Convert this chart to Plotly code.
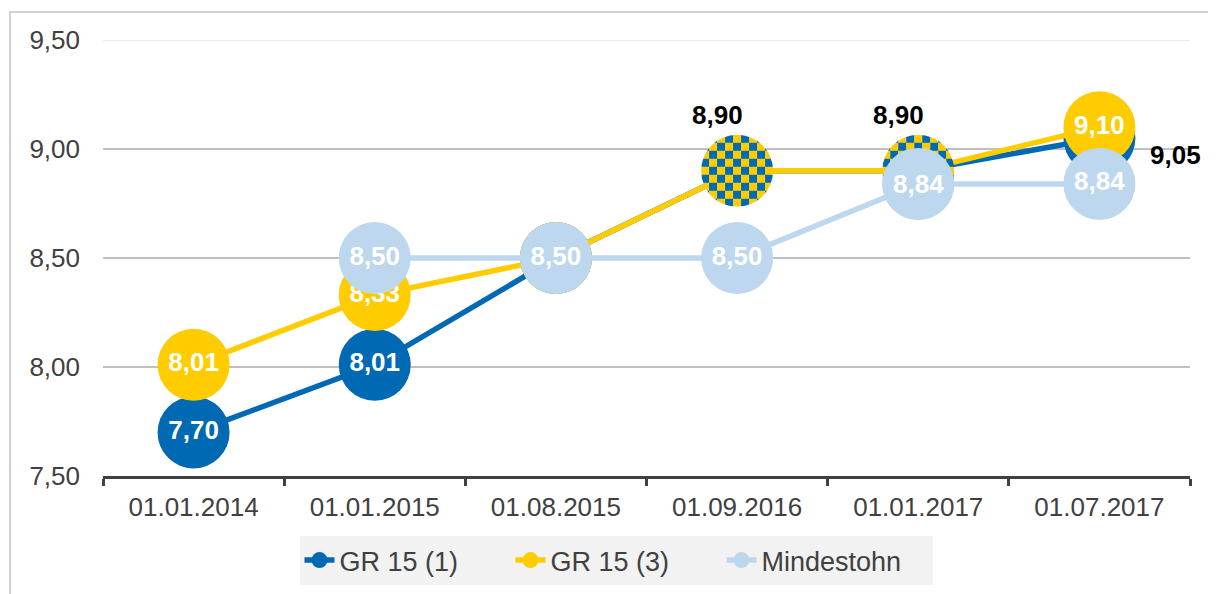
import base64
import plotly.graph_objects as go

# ---------------- data ----------------
categories = ["01.01.2014", "01.01.2015", "01.08.2015", "01.09.2016", "01.01.2017", "01.07.2017"]
gr15_1 = [7.70, 8.01, 8.50, 8.90, 8.90, 9.05]
gr15_3 = [8.01, 8.33, 8.50, 8.90, 8.90, 9.10]
mindestlohn = [None, 8.50, 8.50, 8.50, 8.84, 8.84]
series_names = ["GR 15 (1)", "GR 15 (3)", "Mindestohn"]
y_ticks = [7.50, 8.00, 8.50, 9.00, 9.50]

# ---------------- styles ----------------
BLUE = "#0069B4"
YELLOW = "#FFCC00"
LIGHT = "#BDD7EE"
TEXT = "#404040"
FONT = "Liberation Sans, Arial, sans-serif"
OFF = 8                       # page body margin
W, H = 1216 - OFF, 594 - OFF
PX0, PX1, PY0, PY1 = 103, 1190, 40, 476   # plot area in page pixels
ML, MR, MT, MB = PX0 - OFF, W - (PX1 - OFF), PY0 - OFF, H - (PY1 - OFF)
MS = 72          # marker diameter (px)
LW = 5.5         # line width
FS = 26          # font size

def fmt(v):
    return "" if v is None else f"{v:.2f}".replace(".", ",")

# points where both GR 15 series coincide -> checkered marker
shared = [i for i, (a, b) in enumerate(zip(gr15_1, gr15_3)) if a == b and mindestlohn[i] != a]
redraw_light = [i for i in shared if mindestlohn[i] is not None and abs(mindestlohn[i] - gr15_1[i]) < 0.3]
last = len(categories) - 1

def sizes(vals, hide):
    return [0 if (v is None or i in hide) else MS for i, v in enumerate(vals)]

text1 = [fmt(v) for v in gr15_1]
text3 = [fmt(v) for v in gr15_3]
textL = [fmt(v) for v in mindestlohn]
for i in shared:
    text1[i] = ""
    text3[i] = ""
for i in redraw_light:
    textL[i] = ""
text1[last] = ""  # shown as external label

fig = go.Figure()
for name, vals, col, txt, hide in [
    (series_names[0], gr15_1, BLUE, text1, shared),
    (series_names[1], gr15_3, YELLOW, text3, shared),
    (series_names[2], mindestlohn, LIGHT, textL, []),
]:
    fig.add_trace(go.Scatter(
        x=categories, y=vals, name=name, mode="lines+markers+text",
        line=dict(color=col, width=LW),
        marker=dict(color=col, size=sizes(vals, hide), opacity=1, line=dict(width=0)),
        text=txt, textposition="middle center",
        textfont=dict(family=FONT, size=FS, color="white", weight="bold"),
        hoverinfo="skip", cliponaxis=False,
    ))

pw = PX1 - PX0
ph = PY1 - PY0
xr = [-0.5, len(categories) - 0.5]
yr = [y_ticks[0], y_ticks[-1]]
sx = MS * (xr[1] - xr[0]) / pw
sy = MS * (yr[1] - yr[0]) / ph

# checkered marker image
n = 9
cells = "".join(
    f'<rect x="{i}" y="{j}" width="1.02" height="1.02" fill="{BLUE if (i + j) % 2 else YELLOW}"/>'
    for i in range(n) for j in range(n)
)
svg = (f'<svg xmlns="http://www.w3.org/2000/svg" width="180" height="180" viewBox="0 0 {n} {n}">'
       f'<defs><clipPath id="c"><circle cx="{n/2}" cy="{n/2}" r="{n/2}"/></clipPath></defs>'
       f'<g clip-path="url(#c)">{cells}</g></svg>')
src = "data:image/svg+xml;base64," + base64.b64encode(svg.encode()).decode()

images = []
annotations = []
shapes = []
for i in shared:
    images.append(dict(source=src, xref="x", yref="y", x=i, y=gr15_1[i],
                       sizex=sx, sizey=sy, xanchor="center", yanchor="middle",
                       sizing="stretch", layer="above"))
    annotations.append(dict(x=categories[i], y=gr15_1[i], text=fmt(gr15_1[i]), showarrow=False,
                            xshift=-20, yshift=56,
                            font=dict(family=FONT, size=FS, color="black", weight="bold")))
for i in redraw_light:
    shapes.append(dict(type="circle", xref="x", yref="y", xsizemode="pixel", ysizemode="pixel",
                       xanchor=categories[i], yanchor=mindestlohn[i],
                       x0=-MS / 2, x1=MS / 2, y0=-MS / 2, y1=MS / 2,
                       fillcolor=LIGHT, line=dict(width=0), layer="above"))
    annotations.append(dict(x=categories[i], y=mindestlohn[i], text=fmt(mindestlohn[i]), showarrow=False,
                            font=dict(family=FONT, size=FS, color="white", weight="bold")))

annotations.append(dict(x=categories[last], y=gr15_1[last], text=fmt(gr15_1[last]), showarrow=False,
                        xshift=76, yshift=-17,
                        font=dict(family=FONT, size=FS, color="black", weight="bold")))

# lighter top gridline
shapes.append(dict(type="line", xref="paper", yref="y", x0=0, x1=1, y0=y_ticks[-1], y1=y_ticks[-1],
                   line=dict(color="#E4E4E4", width=1.5), layer="above"))
# outer frame
shapes.append(dict(type="rect", xref="paper", yref="paper",
                   x0=(10 - PX0) / pw, x1=1.2, y0=-0.4, y1=(PY1 - 12) / ph,
                   line=dict(color="#C4C4C4", width=1.5), fillcolor="rgba(0,0,0,0)", layer="below"))

fig.update_layout(
    width=W, height=H,
    margin=dict(l=ML, r=MR, t=MT, b=MB, autoexpand=False),
    paper_bgcolor="white", plot_bgcolor="rgba(0,0,0,0)",
    separators=",.",
    font=dict(family=FONT, size=FS, color=TEXT),
    showlegend=True,
    legend=dict(orientation="h", x=(616 - PX0) / pw, xanchor="center", y=-(536 - PY1) / ph,
                yanchor="top", bgcolor="#F2F2F2", entrywidth=166,
                font=dict(family=FONT, size=27, color=TEXT), traceorder="normal"),
    images=images, shapes=shapes, annotations=annotations,
    hovermode=False,
)
fig.update_xaxes(type="category", range=xr, showline=True, linecolor=TEXT, linewidth=3,
                 ticks="outside", tickson="boundaries", ticklen=7, tickwidth=3, tickcolor=TEXT,
                 showgrid=False, zeroline=False, tickfont=dict(family=FONT, size=FS, color=TEXT),
                 ticklabelstandoff=6)
fig.update_yaxes(range=yr, tickvals=y_ticks, tickformat=".2f", showgrid=True, gridcolor="#C0C0C0",
                 gridwidth=1.5, zeroline=False, showline=False, ticks="",
                 tickfont=dict(family=FONT, size=FS, color=TEXT), ticklabelstandoff=22)

fig.write_html("out.html")
